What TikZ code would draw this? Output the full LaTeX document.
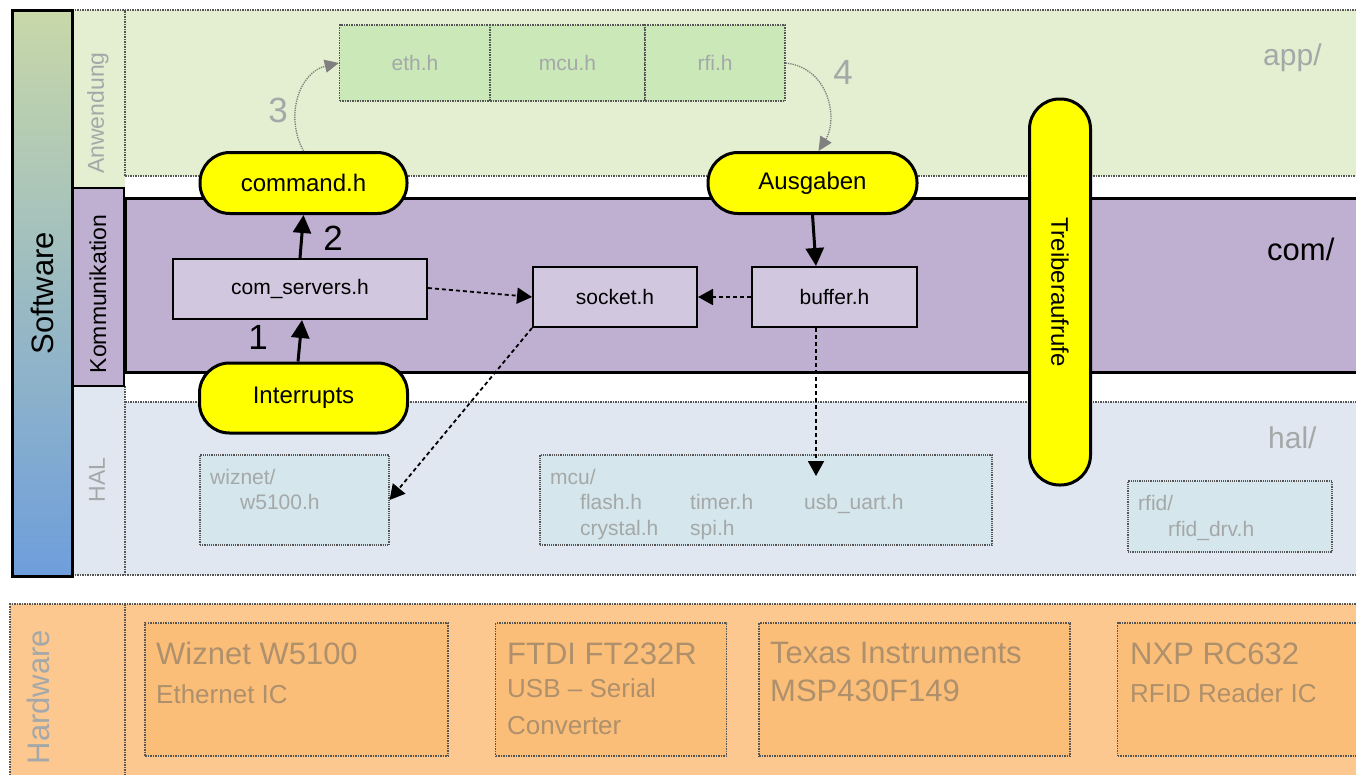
\documentclass[tikz,border=0pt]{standalone}
\usepackage{fontspec}
\setmainfont{Liberation Sans}
\usetikzlibrary{arrows.meta}
\newcommand{\fsz}[1]{\fontsize{#1}{#1}\selectfont}
\definecolor{appbg}{RGB}{228,238,208}
\definecolor{appbox}{RGB}{203,232,185}
\definecolor{combg}{RGB}{191,176,209}
\definecolor{combox}{RGB}{209,200,224}
\definecolor{halbg}{RGB}{224,231,240}
\definecolor{halbox}{RGB}{213,230,236}
\definecolor{hwbg}{RGB}{253,200,144}
\definecolor{hwbox}{RGB}{251,190,120}
\definecolor{softtop}{RGB}{200,216,168}
\definecolor{softbot}{RGB}{110,158,220}
\definecolor{graytxt}{RGB}{164,168,168}
\definecolor{hwtxt}{RGB}{174,144,108}
\definecolor{borderdot}{RGB}{85,85,85}
\definecolor{pillyellow}{RGB}{255,255,0}
\tikzset{
  pill/.style={draw=black, line width=3pt, fill=pillyellow, rounded corners=30pt, inner sep=0pt, font=\fsz{24}},
  combx/.style={draw=black, line width=2pt, fill=combox, inner sep=0pt, minimum height=60pt, font=\fsz{21}},
  appbx/.style={draw=borderdot, densely dotted, line width=1.5pt, fill=appbox, inner sep=0pt, minimum height=76pt, text=graytxt, font=\fsz{21}},
  halbx/.style={draw=borderdot, densely dotted, line width=1.2pt, fill=halbox, inner sep=0pt},
  hwbx/.style={draw=borderdot, densely dotted, line width=1.5pt, fill=hwbox, inner sep=0pt, minimum height=133pt},
  halt/.style={anchor=base west, inner sep=0pt, text=graytxt, font=\fsz{21}},
  hwta/.style={anchor=base west, inner sep=0pt, text=hwtxt, font=\fsz{31}},
  hwtb/.style={anchor=base west, inner sep=0pt, text=hwtxt, font=\fsz{26}},
  bandline/.style={draw=borderdot, densely dotted, line width=1.5pt},
  solidarr/.style={line width=3pt, -{Triangle[length=18pt,width=18pt]}},
  dasharr/.style={line width=1.8pt, dash pattern=on 4pt off 3pt, -{Triangle[length=15pt,width=16pt]}},
  curvarr/.style={draw=gray, line width=1.3pt, densely dotted, -{Triangle[length=14pt,width=13pt,fill=gray]}},
  digit/.style={inner sep=0pt, font=\fsz{35}},
}
\begin{document}
\begin{tikzpicture}[x=1pt,y=-1pt]
\useasboundingbox (0,0) rectangle (1356,774);
% ---- bands
\fill[appbg] (72,10) rectangle (125,188);
\fill[appbg] (72,10) rectangle (1362,176);
\draw[bandline] (1362,176) -- (125,176) -- (125,10);
\draw[bandline] (72,10) -- (1362,10);
\fill[halbg] (72,386) rectangle (125,575);
\fill[halbg] (72,402) rectangle (1362,575);
\draw[bandline] (125,402) -- (1362,402);
\draw[bandline] (125,386) -- (125,575);
\draw[bandline] (72,575) -- (1362,575);
\draw[black, line width=3pt, fill=combg] (125,198) rectangle (1362,372);
\draw[black, line width=2.5pt, fill=combg] (73,188) rectangle (124,386);
\shade[top color=softtop, bottom color=softbot] (12,10) rectangle (72,576);
\draw[black, line width=3pt] (12,10) rectangle (72,576);
\fill[hwbg] (10,604) rectangle (1362,780);
\draw[bandline] (10,780) -- (10,604) -- (1362,604);
\draw[bandline] (125,604) -- (125,780);
% ---- column labels
\node[rotate=90, font=\fsz{31}] (lsw) at (42,293) {Software};
\node[rotate=90, text=graytxt, font=\fsz{23}] (lanw) at (98,113) {Anwendung};
\node[rotate=90, font=\fsz{23}] (lkom) at (98,294) {Kommunikation};
\node[rotate=90, text=graytxt, font=\fsz{23}] (lhal) at (97,480) {HAL};
\node[rotate=90, text=graytxt, font=\fsz{31}] (lhw) at (38,697) {Hardware};
% ---- band names
\node[anchor=base west, inner sep=0pt, text=graytxt, font=\fsz{30}] (lapp) at (1263,65) {app/};
\node[anchor=base west, inner sep=0pt, font=\fsz{31}] (lcom) at (1267,260) {com/};
\node[anchor=base west, inner sep=0pt, text=graytxt, font=\fsz{30}] (lhalb) at (1268,448) {hal/};
% ---- app boxes
\node[appbx, minimum width=151pt] (eth) at (415,63) {eth.h};
\node[appbx, minimum width=155pt] (mcuh) at (567.5,63) {mcu.h};
\node[appbx, minimum width=140pt] (rfi) at (715,63) {rfi.h};
% ---- hal boxes
\node[halbx, minimum width=189pt, minimum height=90pt] (wiz) at (294.5,500) {};
\node[halbx, minimum width=452pt, minimum height=90pt] (mcub) at (766,500) {};
\node[halbx, minimum width=204pt, minimum height=71pt] (rfid) at (1230,516.5) {};
\node[halt] (twiz) at (210,484) {wiznet/};
\node[halt] (tw51) at (240,509) {w5100.h};
\node[halt] (tmcu) at (550,484) {mcu/};
\node[halt] (tfla) at (580,509) {flash.h};
\node[halt] (ttim) at (690,509) {timer.h};
\node[halt] (tusb) at (804,509) {usb\_uart.h};
\node[halt] (tcry) at (580,535) {crystal.h};
\node[halt] (tspi) at (690,535) {spi.h};
\node[halt] (trf) at (1138,510) {rfid/};
\node[halt] (trfd) at (1168,536) {rfid\_drv.h};
% ---- hardware boxes
\node[hwbx, minimum width=303pt] (hw1) at (296.5,689.5) {};
\node[hwbx, minimum width=231pt] (hw2) at (611,689.5) {};
\node[hwbx, minimum width=311pt] (hw3) at (914.5,689.5) {};
\node[hwbx, minimum width=250pt] (hw4) at (1242.5,689.5) {};
\node[hwta] (h1a) at (156,664) {Wiznet W5100};
\node[hwtb] (h1b) at (156,703) {Ethernet IC};
\node[hwta] (h2a) at (507,664) {FTDI FT232R};
\node[hwtb] (h2b) at (507,697) {USB – Serial};
\node[hwtb] (h2c) at (507,734) {Converter};
\node[hwta] (h3a) at (770,663) {Texas Instruments};
\node[hwta] (h3b) at (770,701) {MSP430F149};
\node[hwta] (h4a) at (1130,664) {NXP RC632};
\node[hwtb] (h4b) at (1130,702) {RFID Reader IC};
% ---- com boxes
\node[combx, minimum width=254pt] (srv) at (300,289) {com\_servers.h};
\node[combx, minimum width=164pt] (sock) at (615,297) {socket.h};
\node[combx, minimum width=165pt] (buf) at (834.5,297) {buffer.h};
% ---- pills
\node[pill, minimum width=207pt, minimum height=61pt] (cmd) at (303.5,183) {command.h};
\node[pill, minimum width=209pt, minimum height=61pt] (ausg) at (812.5,183) {Ausgaben};
\node[pill, minimum width=208pt, minimum height=70pt] (intr) at (303.5,398) {Interrupts};
\node[pill, rotate=-90, minimum width=386pt, minimum height=61pt, font=\fsz{24}] (treib) at (1060,292) {Treiberaufrufe};
% ---- connectors
\coordinate (usbin) at (816,476);
\draw[solidarr] ([xshift=-5.5pt]intr.north) -- ([xshift=2pt]srv.south);
\draw[solidarr] (srv.north) -- (cmd.south);
\draw[solidarr] (ausg.south) -- ([xshift=-18.5pt]buf.north);
\draw[dasharr] (buf.west) -- (sock.east);
\draw[dasharr] ([yshift=1pt]srv.east) -- (sock.west);
\draw[dasharr] (sock.south west) -- (wiz.east);
\draw[dasharr] ([xshift=-18.5pt]buf.south) -- (usbin);
\draw[curvarr] (cmd.north) .. controls (284,115) and (300,72) .. (eth.west);
\draw[curvarr] (rfi.east) .. controls (830,68) and (838,120) .. ([xshift=6pt]ausg.north);
% ---- digit labels
\node[digit] (n1) at (258,337) {1};
\node[digit] (n2) at (333,238) {2};
\node[digit, text=graytxt] (n3) at (278,110) {3};
\node[digit, text=graytxt] (n4) at (843,72) {4};
\end{tikzpicture}
\end{document}
